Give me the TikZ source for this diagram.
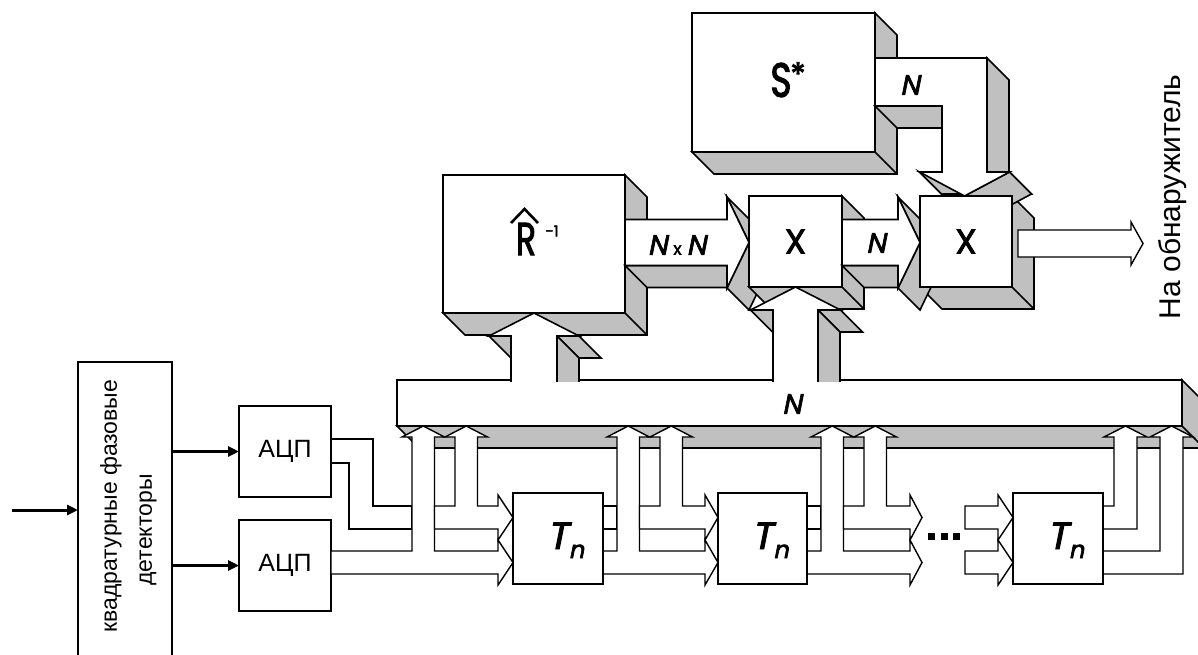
\documentclass[tikz,border=0pt]{standalone}
\usepackage{fontspec}
\usepackage{graphicx}
\usetikzlibrary{arrows.meta}
\setmainfont{Liberation Sans}
\newfontfamily\geo{Poppins}[FakeBold=2.5]
\newfontfamily\geoit{Poppins}[FakeSlant=0.2,FakeBold=2.5]
\definecolor{face}{RGB}{192,192,192}

% extruded block: shaded right and bottom faces, then the white front node
\newcommand\solidblock[5]{% name, left, top, right, bottom
  \path[fill=face,draw=black,edge] (#4,#3) -- (#4+22,#3+22) -- (#4+22,#5+22) -- (#2+22,#5+22) -- (#2,#5) -- (#4,#5) -- cycle;
  \draw[edge] (#4,#5) -- (#4+22,#5+22);
  \node[front,minimum width={(#4-#2)*1pt},minimum height={(#5-#3)*1pt}] (#1) at ({(#2+#4)/2},{(#3+#5)/2}) {};
}

% tap on the bus: lower band rises at x0, upper band passes behind and rises further right
\newcommand\bustap[4]{% x0, source x, head base x, head tip x
  \draw[band] (#2,551) -- (#1,551) -- (#1,437) -- (#1-10,437) -- (#1+11.25,426) -- (#1+32.5,437) -- (#1+22.5,437) -- (#1+22.5,551) -- (#3,551) -- (#3,540) -- (#4,562.5) -- (#3,585) -- (#3,574) -- (#2,574) -- cycle;
  \draw[band] (#1+22.5,529) -- (#1+22.5,506) -- (#1+43,506) -- (#1+43,437) -- (#1+33,437) -- (#1+54.25,426) -- (#1+75.5,437) -- (#1+65.5,437) -- (#1+65.5,506) -- (#3,506) -- (#3,495) -- (#4,517.5) -- (#3,540) -- (#3,529) -- cycle;
}

% delay label T_n placed from a block centre
\newcommand\delaylabel[3]{% name, x, y
  \node[anchor=base west,inner sep=0] (#1lbl) at (#2-11,#3+10.5)
    {{\geoit\fontsize{38}{38}\selectfont T}\kern1pt\raisebox{-9pt}{\geoit\fontsize{24}{24}\selectfont n}};
}

\begin{document}
\begin{tikzpicture}[x=1pt,y=-1pt,
  edge/.style={line width=1.6pt,line join=miter},
  front/.style={draw,fill=white,line width=1.6pt,inner sep=0pt,outer sep=0pt},
  band/.style={draw,fill=white,line width=1.4pt,line join=miter},
  box/.style={draw,fill=white,line width=1.5pt,inner sep=0pt,outer sep=0pt},
  feed/.style={line width=3pt,-{Triangle[length=11pt,width=10pt]}},
  lbl/.style={inner sep=0pt},
  dotsq/.style={fill=black,minimum size=7pt,inner sep=0pt}]

\useasboundingbox (0,0) rectangle (1198,655);
\fill[white] (0,0) rectangle (1198,655);
\clip (0,0) rectangle (1198,655);

% ---------- data bus ----------
\path[fill=face,draw=black,edge] (1182,380) -- (1204,402) -- (1204,448) -- (419,448) -- (397,426) -- (1182,426) -- cycle;
\draw[edge] (1182,426) -- (1204,448);
\node[front,minimum width=785pt,minimum height=46pt] (bus) at (789.5,403) {};
\node[lbl,font=\geoit\fontsize{28}{28}\selectfont] (busN) at (792,404) {N};

% ---------- detectors and converters ----------
\node[box,minimum width=94pt,minimum height=340pt,anchor=north west] (det) at (78,362) {};
\node[lbl,rotate=90,font=\fontsize{23}{23}\selectfont] (detA) at (111,506) {квадратурные фазовые};
\node[lbl,rotate=90,font=\fontsize{23}{23}\selectfont] (detB) at (148,530) {детекторы};
\node[box,minimum width=92pt,minimum height=91pt,font=\fontsize{25}{25}\selectfont] (adc1) at (285,451.5) {АЦП};
\node[box,minimum width=92pt,minimum height=91pt,font=\fontsize{25}{25}\selectfont] (adc2) at (285,565.5) {АЦП};
\coordinate (src) at (12,510);
\draw[feed] (src) -- (src -| det.west);
\draw[feed] (adc1.west -| det.east) -- (adc1.west);
\draw[feed] (adc2.west -| det.east) -- (adc2.west);

% first converter output folds down into the upper band
\draw[band] (331,439) -- (373,439) -- (373,506) -- (412,506) -- (412,529) -- (349,529) -- (349,463) -- (331,463) -- cycle;
\bustap{412}{331}{498}{513}

% first delay stage
\draw[band] (603,506) rectangle (617,529);
\bustap{617}{603}{705}{718}
% second delay stage
\draw[band] (807,506) rectangle (821,529);
\bustap{821}{807}{910}{922}

\node[box,minimum width=90pt,minimum height=91pt] (t1) at (558,538.5) {};
\node[box,minimum width=89pt,minimum height=91pt] (t2) at (762.5,538.5) {};
\delaylabel{t1}{558}{538.5}
\delaylabel{t2}{762.5}{538.5}

\node[dotsq] (d1) at (931.5,536.5) {};
\node[dotsq] (d2) at (944,536.5) {};
\node[dotsq] (d3) at (956.5,536.5) {};

% last delay stage
\draw[band] (965,506) -- (998,506) -- (998,495) -- (1013,517.5) -- (998,540) -- (998,529) -- (965,529) -- cycle;
\draw[band] (965,551) -- (998,551) -- (998,540) -- (1013,562.5) -- (998,585) -- (998,574) -- (965,574) -- cycle;
\draw[band] (1103,506) -- (1114,506) -- (1114,437) -- (1104,437) -- (1125.5,426) -- (1147,437) -- (1137,437) -- (1137,529) -- (1103,529) -- cycle;
\draw[band] (1103,551) -- (1160,551) -- (1160,437) -- (1150,437) -- (1171.5,426) -- (1193,437) -- (1183,437) -- (1183,574) -- (1103,574) -- cycle;
\node[box,minimum width=90pt,minimum height=91pt] (t3) at (1058,538.5) {};
\delaylabel{t3}{1058}{538.5}

% ---------- inverse correlation matrix ----------
\solidblock{rinv}{443}{175}{625}{313}
\node[lbl,font=\geo\fontsize{46}{46}\selectfont] (rinvR) at (526,239) {\scalebox{0.72}[1]{R}};
\draw[line width=2.6pt] (511,223) -- (524.5,209) -- (538,223);
\node[lbl,font=\geo\fontsize{15}{15}\selectfont] (rinvE) at (552,231) {-1};

% bus to the matrix block
\begin{scope}
  \clip (0,0) rectangle (1198,381.5);
  \path[fill=face,draw=black,edge] (489,336) -- (511,336) -- (533,358) -- (511,358) -- cycle;
  \path[fill=face,draw=black,edge] (557,336) -- (579,336) -- (601,358) -- (579,358) -- cycle;
  \path[fill=face,draw=black,edge] (557,336) -- (557,400) -- (579,422) -- (579,358) -- cycle;
  \path[fill=white,draw=black,edge] (511,400) -- (511,336) -- (489,336) -- (534,313) -- (579,336) -- (557,336) -- (557,400) -- cycle;
\end{scope}

% N x N transfer to the first multiplier
\path[fill=face,draw=black,edge] (727,197) -- (749,242.5) -- (771,264.5) -- (749,219) -- cycle;
\path[fill=face,draw=black,edge] (625,265.5) -- (727,265.5) -- (749,287.5) -- (647,287.5) -- cycle;
\path[fill=face,draw=black,edge] (727,288) -- (749,242.5) -- (771,264.5) -- (749,310) -- cycle;
\path[fill=white,draw=black,edge] (625,219.5) -- (727,219.5) -- (727,197) -- (749,242.5) -- (727,288) -- (727,265.5) -- (625,265.5) -- cycle;
\node[lbl] (nxn) at (677,245) {{\geoit\fontsize{28}{28}\selectfont N}\hspace{6pt}{\geo\fontsize{17}{17}\selectfont x}\hspace{5pt}{\geoit\fontsize{28}{28}\selectfont N}};

% first multiplier
\solidblock{mul1}{749}{196}{842}{287}
\node[lbl,font=\geo\fontsize{34}{34}\selectfont] (mul1X) at (mul1) {X};

% bus to the first multiplier
\begin{scope}
  \clip (0,0) rectangle (1198,381.5);
  \path[fill=face,draw=black,edge] (750.5,310) -- (773,310) -- (795,332) -- (772.5,332) -- cycle;
  \path[fill=face,draw=black,edge] (818,310) -- (840.5,310) -- (862.5,332) -- (840,332) -- cycle;
  \path[fill=face,draw=black,edge] (818,310) -- (818,400) -- (840,422) -- (840,332) -- cycle;
  \path[fill=white,draw=black,edge] (773,400) -- (773,310) -- (750.5,310) -- (795.5,287) -- (840.5,310) -- (818,310) -- (818,400) -- cycle;
\end{scope}

% ---------- steering vector ----------
\solidblock{sv}{692}{13}{875}{152}
\node[lbl,font=\geo\fontsize{48}{48}\selectfont] (svS) at (781,80) {\scalebox{0.75}[1]{S}};
\node[lbl,font=\geo\fontsize{32}{32}\selectfont] (svA) at (798,74) {*};

% second multiplier: faces, incoming arrows, then the front
\path[fill=face,draw=black,edge] (1012,196) -- (1034,218) -- (1034,309) -- (942,309) -- (920,287) -- (1012,287) -- cycle;
\draw[edge] (1012,287) -- (1034,309);

% N from the first multiplier
\path[fill=face,draw=black,edge] (898,197) -- (920,242.5) -- (942,264.5) -- (920,219) -- cycle;
\path[fill=face,draw=black,edge] (842,265.5) -- (898,265.5) -- (920,287.5) -- (864,287.5) -- cycle;
\path[fill=face,draw=black,edge] (898,288) -- (920,242.5) -- (942,264.5) -- (920,310) -- cycle;
\path[fill=white,draw=black,edge] (842,219.5) -- (898,219.5) -- (898,197) -- (920,242.5) -- (898,288) -- (898,265.5) -- (842,265.5) -- cycle;
\node[lbl,font=\geoit\fontsize{28}{28}\selectfont] (n2) at (876,243) {N};

% N from the steering vector
\path[fill=face,draw=black,edge] (875,106) -- (942,106) -- (964,128) -- (897,128) -- cycle;
\path[fill=face,draw=black,edge] (987,58) -- (987,172) -- (1009,194) -- (1009,80) -- cycle;
\path[fill=face,draw=black,edge] (987,172) -- (1009.5,172) -- (1031.5,194) -- (1009,194) -- cycle;
\path[fill=face,draw=black,edge] (964.5,196) -- (1009.5,172) -- (1031.5,194) -- (986.5,218) -- cycle;
\path[fill=face,draw=black,edge] (919.5,172) -- (964.5,196) -- (986.5,218) -- (941.5,194) -- cycle;
\path[fill=face,draw=black,edge] (919.5,172) -- (942,172) -- (964,194) -- (941.5,194) -- cycle;
\path[fill=white,draw=black,edge] (875,58) -- (987,58) -- (987,172) -- (1009.5,172) -- (964.5,196) -- (919.5,172) -- (942,172) -- (942,106) -- (875,106) -- cycle;
\node[lbl,font=\geoit\fontsize{28}{28}\selectfont] (n3) at (910,85) {N};

\node[front,minimum width=92pt,minimum height=91pt] (mul2) at (966,241.5) {};
\node[lbl,font=\geo\fontsize{34}{34}\selectfont] (mul2X) at (mul2) {X};

% result to the detector
\draw[band] (1018,230) -- (1131,230) -- (1131,222) -- (1143,243.5) -- (1131,265) -- (1131,257) -- (1018,257) -- cycle;
\node[lbl,rotate=90,font=\fontsize{30}{30}\selectfont] (outlbl) at (1173,197) {На обнаружитель};

\end{tikzpicture}
\end{document}
